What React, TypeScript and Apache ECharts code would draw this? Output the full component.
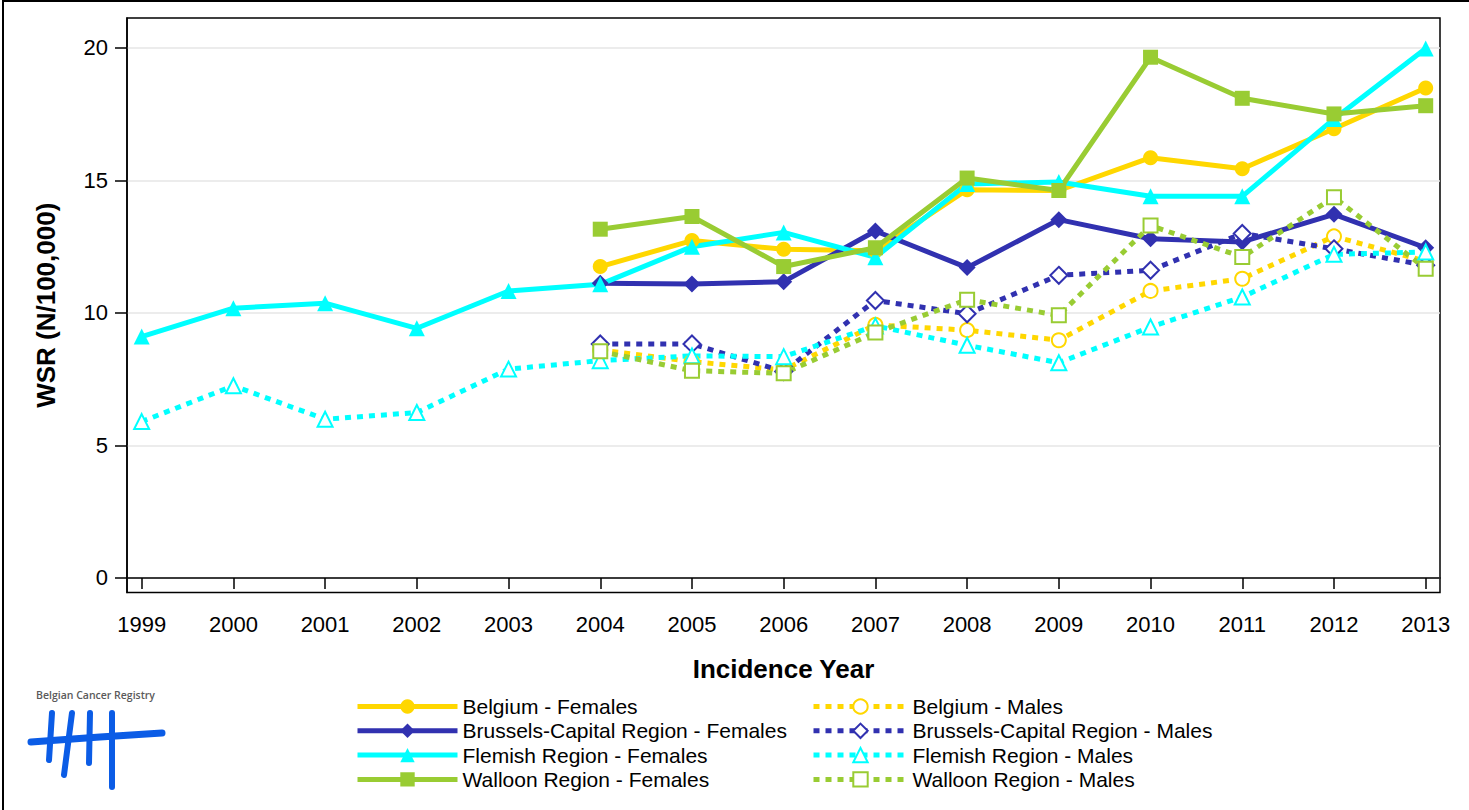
import React, { useEffect, useRef } from "react";
import * as echarts from "echarts";

const years = [1999, 2000, 2001, 2002, 2003, 2004, 2005, 2006, 2007, 2008, 2009, 2010, 2011, 2012, 2013];
const yTicks = [0, 5, 10, 15, 20];

const belgiumF = [null, null, null, null, null, 11.75, 12.73, 12.4, 12.35, 14.65, 14.62, 15.86, 15.44, 16.95, 18.49];
const brusselsF = [null, null, null, null, null, 11.12, 11.09, 11.18, 13.09, 11.71, 13.52, 12.8, 12.68, 13.72, 12.46];
const flemishF = [9.11, 10.18, 10.37, 9.42, 10.83, 11.08, 12.5, 13.04, 12.1, 14.87, 14.94, 14.4, 14.4, 17.32, 19.98];
const walloonF = [null, null, null, null, null, 13.16, 13.64, 11.75, 12.46, 15.09, 14.62, 19.65, 18.1, 17.51, 17.82];
const belgiumM = [null, null, null, null, null, 8.6, 8.16, 7.85, 9.55, 9.35, 8.97, 10.83, 11.29, 12.89, 11.95];
const brusselsM = [null, null, null, null, null, 8.83, 8.83, 7.79, 10.47, 9.97, 11.42, 11.61, 13.0, 12.42, 11.8];
const flemishM = [5.9, 7.25, 5.99, 6.24, 7.88, 8.2, 8.38, 8.35, 9.51, 8.78, 8.12, 9.47, 10.6, 12.21, 12.3];
const walloonM = [null, null, null, null, null, 8.55, 7.82, 7.72, 9.26, 10.5, 9.91, 13.3, 12.11, 14.37, 11.67];

const femaleNames = [
  "Belgium - Females",
  "Brussels-Capital Region - Females",
  "Flemish Region - Females",
  "Walloon Region - Females",
];
const maleNames = [
  "Belgium - Males",
  "Brussels-Capital Region - Males",
  "Flemish Region - Males",
  "Walloon Region - Males",
];

const YELLOW = "#FFD700";
const BLUE = "#3131B0";
const CYAN = "#00FFFF";
const GREEN = "#99CC33";
const FONT = "'Liberation Sans', Arial, Helvetica, sans-serif";

function pairs(vals: (number | null)[]) {
  return years.map((y, i) => [y, vals[i]]);
}

function solidSeries(name: string, vals: (number | null)[], color: string, symbol: string, size: number) {
  return {
    type: "line",
    name,
    data: pairs(vals),
    connectNulls: false,
    symbol,
    symbolSize: size,
    color,
    itemStyle: { color },
    lineStyle: { color, width: 5, type: "solid" },
    z: 3,
  };
}

function dashedSeries(name: string, vals: (number | null)[], color: string, symbol: string, size: number) {
  return {
    type: "line",
    name,
    data: pairs(vals),
    symbol,
    symbolSize: size,
    color,
    itemStyle: { color, borderColor: color, borderWidth: 1.6 },
    lineStyle: { color, width: 5, type: [6, 6], cap: "butt" },
    z: 4,
  };
}

export default function App() {
  const ref = useRef<HTMLDivElement>(null);

  useEffect(() => {
    if (!ref.current) return;
    const chart = echarts.init(ref.current, null, { renderer: "svg" });

    const legendCommon = {
      orient: "vertical",
      padding: 0,
      itemHeight: 18,
      itemGap: 3.3,
      lineStyle: { width: 5 },
      textStyle: { fontFamily: FONT, fontSize: 21, color: "#000", lineHeight: 21 },
      selectedMode: false,
    };

    chart.setOption({
      animation: false,
      backgroundColor: "#fff",
      grid: {
        left: 127,
        top: 18,
        right: 29,
        bottom: 217.5,
        show: true,
        borderColor: "#000",
        borderWidth: 1.5,
        containLabel: false,
      },
      xAxis: {
        type: "value",
        min: 1998.84,
        max: 2013.156,
        name: "Incidence Year",
        nameLocation: "middle",
        nameGap: 63,
        nameTextStyle: { fontFamily: FONT, fontSize: 26, fontWeight: "bold", color: "#000" },
        axisLine: { show: true, lineStyle: { color: "#000", width: 1.5 } },
        axisTick: { show: true, length: 11, customValues: years, lineStyle: { color: "#000", width: 1.5 } },
        axisLabel: {
          customValues: years,
          margin: 21,
          fontFamily: FONT,
          fontSize: 22,
          color: "#000",
          formatter: (v: number) => String(Math.round(v)),
        },
        splitLine: { show: false },
      },
      yAxis: {
        type: "value",
        min: -0.55,
        max: 21.13,
        name: "WSR (N/100,000)",
        nameLocation: "middle",
        nameGap: 68,
        nameTextStyle: { fontFamily: FONT, fontSize: 26, fontWeight: "bold", color: "#000" },
        axisLine: { show: true, lineStyle: { color: "#000", width: 1.5 } },
        axisTick: { show: true, length: 12, customValues: yTicks, lineStyle: { color: "#000", width: 1.5 } },
        axisLabel: {
          customValues: yTicks,
          margin: 19,
          fontFamily: FONT,
          fontSize: 22,
          color: "#000",
        },
        splitLine: { show: true, lineStyle: { color: "#e6e6e6", width: 1.5 } },
      },
      legend: [
        { ...legendCommon, data: femaleNames, left: 355, top: 696, itemWidth: 100 },
        { ...legendCommon, data: maleNames, left: 811, top: 696, itemWidth: 94 },
      ],
      series: [
        solidSeries(femaleNames[0], belgiumF, YELLOW, "circle", 15),
        solidSeries(femaleNames[1], brusselsF, BLUE, "diamond", 17),
        solidSeries(femaleNames[2], flemishF, CYAN, "triangle", 16),
        solidSeries(femaleNames[3], walloonF, GREEN, "rect", 15),
        dashedSeries(maleNames[0], belgiumM, YELLOW, "emptyCircle", 14),
        dashedSeries(maleNames[1], brusselsM, BLUE, "emptyDiamond", 17),
        dashedSeries(maleNames[2], flemishM, CYAN, "emptyTriangle", 15),
        dashedSeries(maleNames[3], walloonM, GREEN, "emptyRect", 14),
      ],
      graphic: [
        { type: "line", shape: { x1: 3, y1: 0, x2: 3, y2: 810 }, style: { stroke: "#000", lineWidth: 2 } },
        { type: "line", shape: { x1: 3, y1: 1, x2: 1469, y2: 1 }, style: { stroke: "#000", lineWidth: 2 } },
        {
          type: "text",
          x: 36,
          y: 695,
          style: {
            text: "Belgian Cancer Registry",
            fontFamily: "'Open Sans', 'Noto Sans', sans-serif",
            fontSize: 10.5,
            fontWeight: 600,
            fill: "#5a5a5a",
            textVerticalAlign: "middle",
          },
        },
        { type: "polyline", shape: { points: [[31, 742], [100, 737], [162, 733]] }, style: { stroke: "#0B5CE6", lineWidth: 7, lineCap: "round", fill: null } },
        { type: "line", shape: { x1: 52, y1: 713, x2: 49, y2: 760 }, style: { stroke: "#0B5CE6", lineWidth: 6, lineCap: "round" } },
        { type: "line", shape: { x1: 72, y1: 713, x2: 64, y2: 775 }, style: { stroke: "#0B5CE6", lineWidth: 6, lineCap: "round" } },
        { type: "line", shape: { x1: 90, y1: 713, x2: 89, y2: 763 }, style: { stroke: "#0B5CE6", lineWidth: 6, lineCap: "round" } },
        { type: "line", shape: { x1: 112, y1: 713, x2: 112, y2: 787 }, style: { stroke: "#0B5CE6", lineWidth: 6, lineCap: "round" } },
      ],
    });

    return () => chart.dispose();
  }, []);

  return (
    <div
      ref={ref}
      style={{ position: "fixed", left: 0, top: 0, width: 1469, height: 810, background: "#fff" }}
    />
  );
}
